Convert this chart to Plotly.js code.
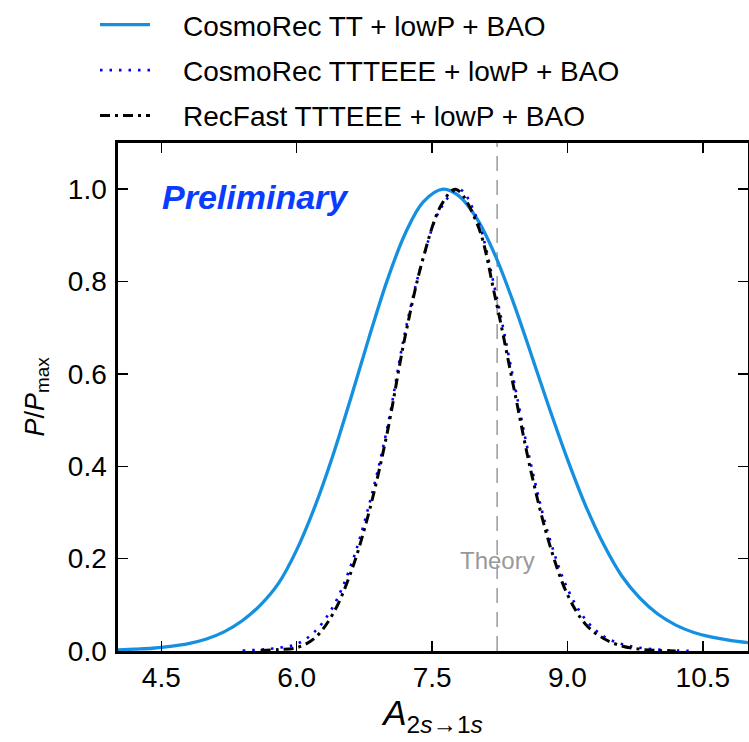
<!DOCTYPE html>
<html>
<head>
<meta charset="utf-8">
<script src="https://cdn.plot.ly/plotly-3.0.1.min.js"></script>
<style>html,body{margin:0;padding:0;background:#fff;}#chart{width:749px;height:742px;}</style>
</head>
<body>
<div id="chart"></div>
<script>
// ---- data ----
const seriesNames = [
  "CosmoRec TT + lowP + BAO",
  "CosmoRec TTTEEE + lowP + BAO",
  "RecFast TTTEEE + lowP + BAO"
];

const xTT = [4.0, 4.2, 4.4, 4.6, 4.8, 5.0, 5.2, 5.4, 5.6, 5.8, 6.0, 6.2, 6.4, 6.6, 6.8, 7.0, 7.2, 7.4, 7.62, 7.8, 8.0, 8.2, 8.4, 8.6, 8.8, 9.0, 9.2, 9.4, 9.6, 9.8, 10.0, 10.2, 10.4, 10.6, 10.8, 11.0];
const yTT = [0.002, 0.004, 0.006, 0.010, 0.016, 0.026, 0.042, 0.066, 0.100, 0.147, 0.219, 0.312, 0.423, 0.548, 0.678, 0.801, 0.903, 0.972, 1.000, 0.985, 0.935, 0.856, 0.755, 0.641, 0.525, 0.415, 0.315, 0.231, 0.163, 0.115, 0.080, 0.056, 0.040, 0.030, 0.023, 0.018];

const xCR = [5.4, 5.6, 5.8, 6.0, 6.2, 6.4, 6.6, 6.8, 7.0, 7.2, 7.4, 7.6, 7.8, 8.0, 8.2, 8.4, 8.6, 8.8, 9.0, 9.2, 9.4, 9.6, 9.8, 10.0, 10.2, 10.4];
const yCR = [0.001, 0.003, 0.007, 0.015, 0.042, 0.095, 0.185, 0.315, 0.480, 0.690, 0.850, 0.960, 1.000, 0.935, 0.780, 0.590, 0.400, 0.245, 0.135, 0.068, 0.032, 0.015, 0.007, 0.003, 0.001, 0.000];

const xRF = [5.6, 5.8, 6.0, 6.2, 6.4, 6.6, 6.8, 7.0, 7.2, 7.4, 7.6, 7.76, 8.0, 8.2, 8.4, 8.6, 8.8, 9.0, 9.2, 9.4, 9.6, 9.8, 10.0, 10.2];
const yRF = [0.001, 0.003, 0.007, 0.028, 0.080, 0.170, 0.300, 0.470, 0.680, 0.850, 0.965, 1.000, 0.925, 0.765, 0.575, 0.385, 0.232, 0.122, 0.058, 0.027, 0.011, 0.004, 0.001, 0.000];

const theoryA = 8.2206;
const xTicks = [4.5, 6.0, 7.5, 9.0, 10.5];
const xTickText = ["4.5", "6.0", "7.5", "9.0", "10.5"];
const yTicks = [0.0, 0.2, 0.4, 0.6, 0.8, 1.0];
const yTickText = ["0.0", "0.2", "0.4", "0.6", "0.8", "1.0"];

// ---- styling ----
const FONT = "Liberation Sans, Arial, sans-serif";
const GAP = "\u2002\u2002"; // space between legend sample and its label

const traces = [
  {
    x: [theoryA, theoryA], y: [0, 1.1], mode: "lines", showlegend: false, hoverinfo: "skip",
    line: {color: "#999999", width: 1.5, dash: "15px,9px"}
  },
  {
    x: xTT, y: yTT, name: GAP + seriesNames[0], mode: "lines", legendgroup: "a",
    line: {color: "#1590e0", width: 3.3, shape: "spline", smoothing: 1}
  },
  {
    x: xCR, y: yCR, name: GAP + seriesNames[1], mode: "lines", legendgroup: "b",
    line: {color: "#0000ff", width: 2.6, shape: "spline", smoothing: 1, dash: "2.5px,7px"}
  },
  {
    x: xRF, y: yRF, name: GAP + seriesNames[2], mode: "lines", legendgroup: "c",
    line: {color: "#000000", width: 3, shape: "spline", smoothing: 1, dash: "10px,5px,3px,5px"}
  }
];

const layout = {
  width: 749, height: 742,
  margin: {l: 118, r: 1, t: 143, b: 91, pad: 0},
  paper_bgcolor: "#ffffff", plot_bgcolor: "#ffffff",
  font: {family: FONT, size: 28, color: "#000"},
  showlegend: true,
  legend: {
    x: -0.0365, xanchor: "left", y: 1.005, yanchor: "top", yref: "container",
    bgcolor: "rgba(0,0,0,0)", borderwidth: 0,
    font: {family: FONT, size: 28, color: "#000"},
    traceorder: "grouped", tracegroupgap: 6, itemwidth: 50
  },
  xaxis: {
    range: [4.02, 11.0], tickmode: "array", tickvals: xTicks, ticktext: xTickText,
    ticks: "inside", ticklen: 10, tickwidth: 1.4, tickcolor: "#000",
    showline: true, linewidth: 2.6, linecolor: "#000", mirror: "ticks",
    showgrid: false, zeroline: false,
    tickfont: {family: FONT, size: 28},
    title: {text: "<i>A</i><sub>2<i>s</i>→1<i>s</i></sub>", font: {family: FONT, size: 35}, standoff: 6}
  },
  yaxis: {
    range: [0, 1.1], tickmode: "array", tickvals: yTicks, ticktext: yTickText,
    ticks: "inside", ticklen: 10, tickwidth: 1.4, tickcolor: "#000",
    showline: true, linewidth: 2.6, linecolor: "#000", mirror: "ticks",
    showgrid: false, zeroline: false, ticklabelstandoff: 3,
    tickfont: {family: FONT, size: 28},
    title: {text: "<i>P</i>/<i>P</i><sub>max</sub>", font: {family: FONT, size: 27}, standoff: 16}
  },
  annotations: [
    {
      x: 5.54, y: 0.983, xref: "x", yref: "y", showarrow: false,
      text: "<b><i>Preliminary</i></b>",
      font: {family: FONT, size: 34, color: "#0a3cff"}
    },
    {
      x: theoryA, y: 0.196, xref: "x", yref: "y", showarrow: false,
      text: "Theory",
      font: {family: FONT, size: 24, color: "#999999"}
    }
  ]
};

Plotly.newPlot("chart", traces, layout, {displayModeBar: false, staticPlot: true});
</script>
</body>
</html>
